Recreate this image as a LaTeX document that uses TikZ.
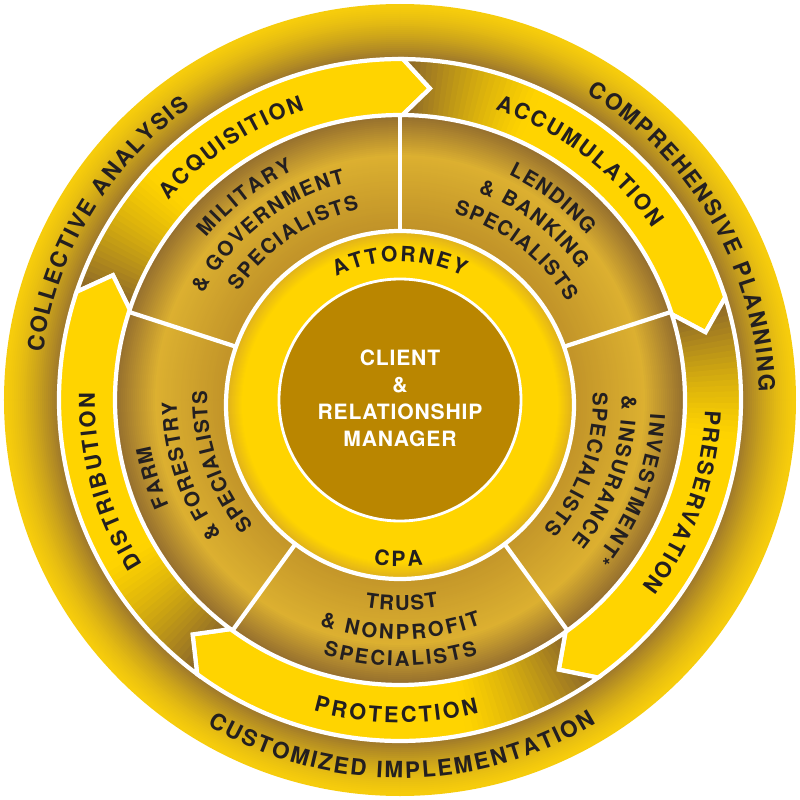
\documentclass[tikz,border=0pt]{standalone}
\usepackage{fontspec}
\setmainfont{TeX Gyre Heros}
\usepackage{tikz}
\usetikzlibrary{decorations.text}

\definecolor{bandyellow}{RGB}{255,212,0}
\definecolor{tailbrown}{RGB}{130,94,44}
\definecolor{textdark}{RGB}{35,31,32}
\definecolor{coregold}{RGB}{186,134,0}
\definecolor{ringbrown}{RGB}{150,112,46}
\definecolor{ringyellow}{RGB}{246,204,12}
\definecolor{segdark}{RGB}{148,110,46}
\definecolor{segmid}{RGB}{192,146,40}
\definecolor{seglight}{RGB}{220,176,48}
\definecolor{attgold}{RGB}{222,176,30}

\newcommand\outerfont{\fontsize{16}{18}\selectfont\bfseries}
\newcommand\bandfont{\fontsize{15.5}{18}\selectfont\bfseries}
\newcommand\ringfont{\fontsize{15}{18}\selectfont\bfseries}
\newcommand\segfont{\fontsize{14.5}{16}\selectfont\bfseries}

\begin{document}
\begin{tikzpicture}[x=0.25mm, y=0.25mm,
  whiteline/.style={draw=white, line width=3pt},
  arclabel/.style n args={3}{decorate, decoration={text along path,
    text={|#1|#2}, text align={fit to path}, raise=#3, text color=textdark}}]
\useasboundingbox (-400,-400) rectangle (400,400);

% outer ring, yellow rim darkening inwards
\foreach \r in {396,394,...,340} {
  \pgfmathtruncatemacro{\pc}{100*((396-\r)/56)^1.4}
  \fill[ringbrown!\pc!ringyellow] (0,0) circle (\r);
}

% specialist ring
\foreach \r in {285,283,...,245} {
  \pgfmathtruncatemacro{\pc}{100*(\r-245)/40}
  \fill[segdark!\pc!seglight] (0,0) circle (\r);
}
\foreach \r in {243,241,...,171} {
  \pgfmathtruncatemacro{\pc}{100*(245-\r)/74}
  \fill[segmid!\pc!seglight] (0,0) circle (\r);
}
\foreach \a in {90,18,-54,-126,162}
  \draw[whiteline] (\a:150) -- (\a:285);

% arrow band, five arrows running clockwise
\foreach \ta in {161.5,89.5,17.5,-54.5,-126.5} {
  \pgfmathsetmacro{\hd}{\ta-72}
  \begin{scope}
    \clip (\ta:341) arc[start angle=\ta, end angle=\hd, radius=341] -- (\hd-5:313)
      -- (\hd:285) arc[start angle=\hd, end angle=\ta, radius=285] -- (\ta-5:313) -- cycle;
    \fill[bandyellow] (0,0) circle (346);
    \foreach \i in {0,...,23} {
      \pgfmathtruncatemacro{\pc}{95*(1-\i/24)^1.3}
      \fill[tailbrown!\pc!bandyellow] (\ta-\i:280) arc[start angle=\ta-\i, end angle=\ta-\i-1.2, radius=280]
        -- (\ta-\i-1.2:346) arc[start angle=\ta-\i-1.2, end angle=\ta-\i, radius=346] -- cycle;
    }
  \end{scope}
  \draw[whiteline] (\ta:341) arc[start angle=\ta, end angle=\hd, radius=341] -- (\hd-5:313)
    -- (\hd:285) arc[start angle=\hd, end angle=\ta, radius=285] -- (\ta-5:313) -- cycle;
}

% attorney / cpa ring
\foreach \r in {174,173,...,158} {
  \pgfmathtruncatemacro{\pc}{100*(\r-158)/16}
  \fill[attgold!\pc!bandyellow] (0,-5) circle (\r);
}
\draw[whiteline] (0,-5) circle (174);

% centre
\fill[coregold] (0,0) circle (121);
\draw[white, line width=2pt] (0,0) circle (121);
\node[align=center, text=white, font=\fontsize{15}{19.2}\selectfont\bfseries\addfontfeatures{LetterSpace=4}]
  (client) at (0,1.5) {CLIENT\\\&\\RELATIONSHIP\\MANAGER};

% outer ring labels
\path[arclabel={\outerfont}{COLLECTIVE ANALYSIS}{-2mm}] (172.4:368) arc[start angle=172.4, end angle=125.7, radius=368];
\path[arclabel={\outerfont}{COMPREHENSIVE PLANNING}{-2mm}] (58.6:367) arc[start angle=58.6, end angle=1.3, radius=367];
\path[arclabel={\outerfont}{CUSTOMIZED IMPLEMENTATION}{-2mm}] (-120.7:370) arc[start angle=-120.7, end angle=-58.7, radius=370];

% arrow labels
\path[arclabel={\bandfont}{ACQUISITION}{-1.94mm}] (139.2:313) arc[start angle=139.2, end angle=108.2, radius=313];
\path[arclabel={\bandfont}{ACCUMULATION}{-1.94mm}] (71.8:313) arc[start angle=71.8, end angle=34.3, radius=313];
\path[arclabel={\bandfont}{PRESERVATION}{-1.94mm}] (-2:313) arc[start angle=-2, end angle=-37.6, radius=313];
\path[arclabel={\bandfont}{PROTECTION}{-1.94mm}] (-105.6:315) arc[start angle=-105.6, end angle=-75.8, radius=315];
\path[arclabel={\bandfont}{DISTRIBUTION}{-1.94mm}] (212.5:313) arc[start angle=212.5, end angle=178.6, radius=313];

% inner ring labels
\path[arclabel={\ringfont}{ATTORNEY}{-1.875mm}] (117.3:146) arc[start angle=117.3, end angle=63, radius=146];
\path[arclabel={\ringfont}{CPA}{-1.875mm}] (-99.2:159) arc[start angle=-99.2, end angle=-81.9, radius=159];

% specialist labels
\path[arclabel={\segfont}{MILITARY}{-1.8mm}] (140.1:260) arc[start angle=140.1, end angle=115, radius=260];
\path[arclabel={\segfont}{{\&} GOVERNMENT}{-1.8mm}] (151.6:231) arc[start angle=151.6, end angle=104.2, radius=231];
\path[arclabel={\segfont}{SPECIALISTS}{-1.8mm}] (146.1:202) arc[start angle=146.1, end angle=102.1, radius=202];

\path[arclabel={\segfont}{LENDING}{-1.8mm}] (64.2:257) arc[start angle=64.2, end angle=41.5, radius=257];
\path[arclabel={\segfont}{{\&} BANKING}{-1.8mm}] (69.3:229) arc[start angle=69.3, end angle=36.1, radius=229];
\path[arclabel={\segfont}{SPECIALISTS}{-1.8mm}] (73.8:201) arc[start angle=73.8, end angle=30.5, radius=201];

\path[arclabel={\segfont}{INVESTMENT*}{-1.8mm}] (-3.2:258) arc[start angle=-3.2, end angle=-39, radius=258];
\path[arclabel={\segfont}{{\&} INSURANCE}{-1.8mm}] (1.1:229) arc[start angle=1.1, end angle=-39.4, radius=229];
\path[arclabel={\segfont}{SPECIALISTS}{-1.8mm}] (2.3:200) arc[start angle=2.3, end angle=-42, radius=200];

\path[arclabel={\segfont}{TRUST}{-1.8mm}] (-99.6:203) arc[start angle=-99.6, end angle=-79.4, radius=203];
\path[arclabel={\segfont}{{\&} NONPROFIT}{-1.8mm}] (-109.7:232) arc[start angle=-109.7, end angle=-70.1, radius=232];
\path[arclabel={\segfont}{SPECIALISTS}{-1.8mm}] (-106.9:259) arc[start angle=-106.9, end angle=-72.9, radius=259];

\path[arclabel={\segfont}{FARM}{-1.8mm}] (204.4:261) arc[start angle=204.4, end angle=190.5, radius=261];
\path[arclabel={\segfont}{{\&} FORESTRY}{-1.8mm}] (217.1:230.5) arc[start angle=217.1, end angle=180.5, radius=230.5];
\path[arclabel={\segfont}{SPECIALISTS}{-1.8mm}] (220.5:200) arc[start angle=220.5, end angle=177.4, radius=200];
\end{tikzpicture}
\end{document}
